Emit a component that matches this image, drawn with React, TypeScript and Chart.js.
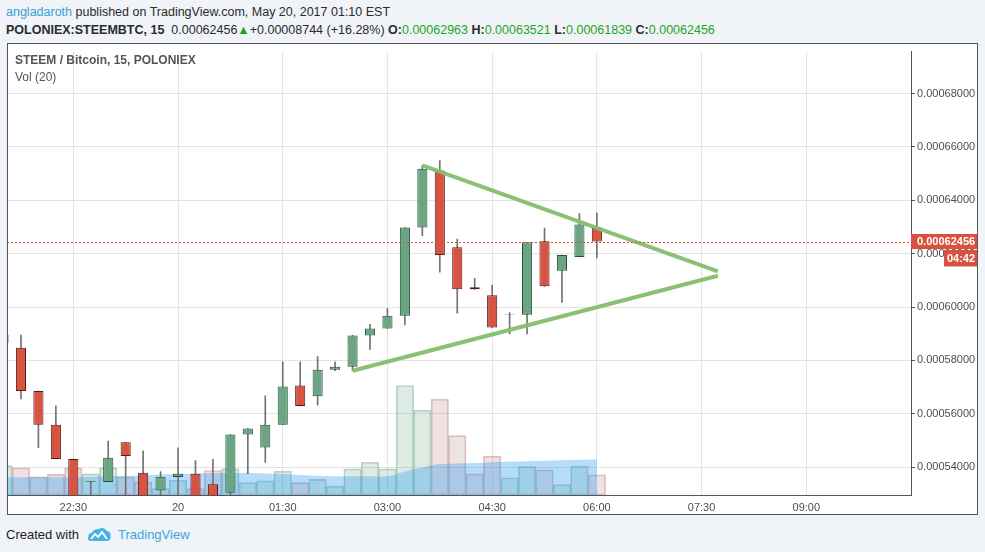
import React, { useEffect, useRef } from "react";
import { Chart, registerables } from "chart.js";

Chart.register(...registerables);

// ---------- data ----------
const CANDLE_TIMES = [
  "21:30", "21:45", "22:00", "22:15", "22:30", "22:45", "23:00", "23:15", "23:30", "23:45",
  "00:00", "00:15", "00:30", "00:45", "01:00", "01:15", "01:30", "01:45", "02:00", "02:15",
  "02:30", "02:45", "03:00", "03:15", "03:30", "03:45", "04:00", "04:15", "04:30", "04:45",
  "05:00", "05:15", "05:30", "05:45", "06:00",
];
const OPEN = [
  0.00058654, 0.00058471, 0.00056853, 0.00055592, 0.00054305, 0.00053445, 0.00053445, 0.0005493, 0.0005379, 0.00053129,
  0.00053629, 0.00053754, 0.0005336, 0.0005304, 0.00055224, 0.00054732, 0.00055592, 0.00057062, 0.00056658, 0.00057651,
  0.00057761, 0.00058937, 0.00059195, 0.00059673, 0.00062982, 0.00065114, 0.00062246, 0.00060739, 0.00060445, 0.000597,
  0.0005971, 0.00062467, 0.00061364, 0.00061879, 0.00062963,
];
const HIGH = [
  0.00058949, 0.00058949, 0.00056853, 0.00056301, 0.00054305, 0.0005347, 0.00054978, 0.0005493, 0.0005461, 0.00053838,
  0.0005472, 0.00054243, 0.0005429, 0.00055224, 0.00055445, 0.00056669, 0.00057945, 0.00057945, 0.0005814, 0.00057945,
  0.00058937, 0.00059353, 0.00059941, 0.00062982, 0.00065309, 0.00065493, 0.00062551, 0.00061081, 0.00060824, 0.00059794,
  0.0006243, 0.00062956, 0.00061952, 0.00063507, 0.00063521,
];
const LOW = [
  0.00058654, 0.00056559, 0.00054732, 0.00054305, 0.000525, 0.000526, 0.00053445, 0.000527, 0.000526, 0.000527,
  0.000527, 0.000526, 0.000526, 0.000529, 0.00053754, 0.0005418, 0.00055592, 0.0005629, 0.00056327, 0.00057614,
  0.00057614, 0.00058408, 0.00059195, 0.00059327, 0.00062673, 0.00061312, 0.00059768, 0.00060665, 0.00059232, 0.00058996,
  0.00058996, 0.00060776, 0.00060173, 0.00061879, 0.00061839,
];
const CLOSE = [
  0.00058949, 0.00056853, 0.00055592, 0.00054305, 0.000527, 0.0005347, 0.00054353, 0.00054415, 0.000527, 0.00053643,
  0.00053754, 0.000527, 0.000527, 0.00055224, 0.00055445, 0.00055592, 0.00057026, 0.0005629, 0.00057651, 0.00057761,
  0.00058937, 0.00059195, 0.00059673, 0.00062982, 0.00065188, 0.00061952, 0.00060665, 0.00060665, 0.00059232, 0.00059725,
  0.0006243, 0.00060776, 0.00061952, 0.00063092, 0.00062456,
];
const VOLUME = [
  1.5, 1.38, 0.92, 1.05, 1.38, 1.08, 1.38, 0.92, 0.67, 0.33,
  0.75, 0.33, 1.25, 1.33, 0.63, 0.72, 1.22, 0.63, 0.8, 0.45,
  1.33, 1.67, 1.33, 5.58, 4.33, 4.88, 3.03, 1.08, 1.98, 0.88,
  1.45, 1.28, 0.53, 1.48, 1.03,
];
const VOLUME_MA = [
  0.9, 0.9, 0.9, 0.9, 0.9, 0.925, 0.95, 0.975, 1.0, 1.05,
  1.075, 1.1, 1.125, 1.125, 1.125, 1.1, 1.075, 1.025, 0.975, 0.95,
  0.95, 0.95, 0.95, 1.2, 1.4, 1.575, 1.6, 1.625, 1.675, 1.7,
  1.725, 1.75, 1.775, 1.8, 1.815,
];
const PRICE_TICKS = [0.00054, 0.00056, 0.00058, 0.0006, 0.00062, 0.00064, 0.00066, 0.00068];
const TIME_TICK_TIMES = ["22:30", "00:00", "01:30", "03:00", "04:30", "06:00", "07:30", "09:00"];
const TIME_TICK_LABELS = ["22:30", "20", "01:30", "03:00", "04:30", "06:00", "07:30", "09:00"];
const TRIANGLE_UPPER_TIMES = ["03:30", "07:44"];
const TRIANGLE_UPPER_PRICES = [0.00065309, 0.00061338];
const TRIANGLE_LOWER_TIMES = ["02:30", "07:44"];
const TRIANGLE_LOWER_PRICES = [0.00057614, 0.00061173];
const LAST_PRICE = 0.00062456;
const COUNTDOWN = "04:42";

// axis ranges
const X_MIN = -147;
const X_MAX = 630;
const Y_MIN = 0.00052956;
const Y_MAX = 0.00069574;
const VOL_MAX = 22.6;

// styles
const BG = "#f0f3f7";
const SANS = "'Liberation Sans', Arial, sans-serif";
const GREEN_TXT = "#1fa51f";
const UP = "#6ba583";
const UP_BORDER = "#225437";
const DOWN = "#d75442";
const DOWN_BORDER = "#5b1a13";
const PRICE_RED = "#d9513f";

const toMinutes = (t: string) => {
  const [h, m] = t.split(":").map(Number);
  const v = h * 60 + m;
  return h >= 12 ? v - 1440 : v;
};

const overlayPlugin = {
  id: "overlayPrice",
  afterDatasetsDraw(chart: any) {
    const { ctx, chartArea, scales } = chart;
    const y = Math.round(scales.y.getPixelForValue(LAST_PRICE)) + 0.5;
    ctx.save();
    ctx.beginPath();
    ctx.rect(chartArea.left, chartArea.top, chartArea.right - chartArea.left, chartArea.bottom - chartArea.top);
    ctx.clip();
    ctx.strokeStyle = "#e04a37";
    ctx.lineWidth = 1;
    ctx.setLineDash([2, 2]);
    ctx.beginPath();
    ctx.moveTo(chartArea.left, y);
    ctx.lineTo(chartArea.right, y);
    ctx.stroke();
    ctx.restore();
  },
  afterDraw(chart: any) {
    const { ctx, chartArea, scales, width } = chart;
    const y = scales.y.getPixelForValue(LAST_PRICE);
    ctx.save();
    ctx.fillStyle = PRICE_RED;
    ctx.fillRect(chartArea.right, Math.round(y - 7.5), width - chartArea.right, 15);
    ctx.fillRect(width - 34, Math.round(y + 8.5), 34, 16.5);
    ctx.fillStyle = "#ffffff";
    ctx.font = `bold 11px ${SANS}`;
    ctx.textBaseline = "middle";
    ctx.textAlign = "left";
    ctx.fillText(LAST_PRICE.toFixed(8), chartArea.right + 6, Math.round(y - 7.5) + 8);
    ctx.textAlign = "center";
    ctx.fillText(COUNTDOWN, width - 17, Math.round(y + 8.5) + 8.5);
    ctx.restore();
  },
};

export default function App() {
  const ref = useRef<HTMLCanvasElement>(null);

  useEffect(() => {
    document.body.style.margin = "0";
    document.body.style.background = BG;
    const xs = CANDLE_TIMES.map(toMinutes);
    const up = OPEN.map((o, i) => CLOSE[i] >= o);
    const tickValues = TIME_TICK_TIMES.map(toMinutes);

    const chart = new Chart(ref.current as HTMLCanvasElement, {
      type: "bar",
      data: {
        datasets: [
          {
            type: "line",
            data: TRIANGLE_UPPER_TIMES.map((t, i) => ({ x: toMinutes(t), y: TRIANGLE_UPPER_PRICES[i] })),
            borderColor: "rgba(134,190,110,0.95)",
            borderWidth: 4,
            pointRadius: 0,
            fill: false,
            order: 0,
            clip: 0,
            yAxisID: "y",
          },
          {
            type: "line",
            data: TRIANGLE_LOWER_TIMES.map((t, i) => ({ x: toMinutes(t), y: TRIANGLE_LOWER_PRICES[i] })),
            borderColor: "rgba(134,190,110,0.95)",
            borderWidth: 4,
            pointRadius: 0,
            fill: false,
            order: 0,
            clip: 0,
            yAxisID: "y",
          },
          {
            type: "bar",
            data: xs.map((x, i) => ({ x, y: [OPEN[i], CLOSE[i]] })),
            backgroundColor: up.map((u) => (u ? UP : DOWN)),
            borderColor: up.map((u) => (u ? UP_BORDER : DOWN_BORDER)),
            borderWidth: 1,
            borderSkipped: false,
            grouped: false,
            barPercentage: 0.58,
            categoryPercentage: 1,
            order: 1,
            clip: 0,
            yAxisID: "y",
          },
          {
            type: "bar",
            data: xs.map((x, i) => ({ x, y: [LOW[i], HIGH[i]] })),
            backgroundColor: "#737373",
            borderWidth: 0,
            grouped: false,
            barThickness: 1,
            order: 2,
            clip: 0,
            yAxisID: "y",
          },
          {
            type: "line",
            data: xs.map((x, i) => ({ x, y: VOLUME_MA[i] })),
            backgroundColor: "rgba(33,150,243,0.33)",
            borderColor: "rgba(33,150,243,0)",
            borderWidth: 0,
            pointRadius: 0,
            tension: 0.4,
            fill: "origin",
            order: 3,
            clip: 0,
            yAxisID: "yVol",
          },
          {
            type: "bar",
            data: xs.map((x, i) => ({ x, y: VOLUME[i] })),
            backgroundColor: up.map((u) => (u ? "rgba(107,165,131,0.22)" : "rgba(175,110,110,0.2)")),
            borderColor: up.map((u) => (u ? "rgba(107,165,131,0.45)" : "rgba(175,110,110,0.4)")),
            borderWidth: 1,
            borderSkipped: false,
            grouped: false,
            barPercentage: 1,
            categoryPercentage: 1,
            order: 4,
            clip: 0,
            yAxisID: "yVol",
          },
        ] as any,
      },
      options: {
        animation: false,
        responsive: false,
        layout: { padding: 0 },
        plugins: { legend: { display: false }, tooltip: { enabled: false } },
        scales: {
          x: {
            type: "linear",
            min: X_MIN,
            max: X_MAX,
            offset: false,
            bounds: "data",
            grid: { color: "#e4e4e4", offset: false, drawTicks: false },
            border: { color: "#555555", width: 1 },
            ticks: {
              color: "#4d4d4d",
              font: { family: SANS, size: 11 },
              padding: 6,
              maxRotation: 0,
              autoSkip: false,
              callback: (_v: any, i: number) => TIME_TICK_LABELS[i],
            },
            afterBuildTicks: (s: any) => {
              s.ticks = tickValues.map((v) => ({ value: v }));
            },
            afterFit: (s: any) => {
              s.height = 20;
            },
          },
          y: {
            type: "linear",
            position: "right",
            min: Y_MIN,
            max: Y_MAX,
            bounds: "data",
            beginAtZero: false,
            grid: { color: "#e4e4e4", tickColor: "#555555", tickLength: 4 },
            border: { color: "#555555", width: 1 },
            ticks: {
              color: "#4d4d4d",
              font: { family: SANS, size: 11 },
              padding: 2,
              callback: (v: any) => Number(v).toFixed(8),
            },
            afterBuildTicks: (s: any) => {
              s.ticks = PRICE_TICKS.map((v) => ({ value: v }));
            },
            afterFit: (s: any) => {
              s.width = 67;
            },
          },
          yVol: {
            type: "linear",
            display: false,
            min: 0,
            max: VOL_MAX,
            beginAtZero: true,
          },
        },
      } as any,
      plugins: [overlayPlugin],
    });
    return () => chart.destroy();
  }, []);

  const hdr: React.CSSProperties = {
    position: "absolute",
    left: 6,
    fontFamily: SANS,
    fontSize: 12.5,
    lineHeight: "14px",
    color: "#2b2b2b",
    whiteSpace: "nowrap",
  };

  return (
    <div style={{ position: "relative", width: 985, height: 552, background: BG, overflow: "hidden" }}>
      <div style={{ ...hdr, top: 5 }}>
        <span style={{ color: "#3aa0d8" }}>angladaroth</span> published on TradingView.com, May 20, 2017 01:10 EST
      </div>
      <div style={{ ...hdr, top: 23 }}>
        <b>POLONIEX:STEEMBTC, 15</b>&nbsp; 0.00062456<span style={{ color: GREEN_TXT }}>▲</span>+0.00008744 (+16.28%){" "}
        <b>O:</b><span style={{ color: GREEN_TXT }}>0.00062963</span> <b>H:</b>
        <span style={{ color: GREEN_TXT }}>0.00063521</span> <b>L:</b>
        <span style={{ color: GREEN_TXT }}>0.00061839</span> <b>C:</b>
        <span style={{ color: GREEN_TXT }}>0.00062456</span>
      </div>

      <div style={{ position: "absolute", left: 7, top: 43, width: 971, height: 472, background: "#ffffff" }}>
        <canvas ref={ref} width={971} height={472} style={{ position: "absolute", left: 0, top: 0 }} />
        <div
          style={{
            position: "absolute",
            left: 8,
            top: 9,
            fontFamily: SANS,
            fontSize: 12,
            fontWeight: "bold",
            color: "#555555",
            lineHeight: "16px",
            whiteSpace: "nowrap",
          }}
        >
          STEEM / Bitcoin, 15, POLONIEX
        </div>
        <div
          style={{
            position: "absolute",
            left: 8,
            top: 26,
            fontFamily: SANS,
            fontSize: 12,
            color: "#555555",
            lineHeight: "16px",
            whiteSpace: "nowrap",
          }}
        >
          Vol (20)
        </div>
        <div
          style={{
            position: "absolute",
            left: 0,
            top: 0,
            width: 971,
            height: 472,
            boxSizing: "border-box",
            border: "1px solid #555555",
            pointerEvents: "none",
          }}
        />
      </div>

      <div
        style={{
          position: "absolute",
          left: 6,
          top: 527,
          fontFamily: SANS,
          fontSize: 13,
          color: "#222222",
          lineHeight: "16px",
          whiteSpace: "nowrap",
        }}
      >
        Created with
      </div>
      <svg width="24" height="15" viewBox="0 0 24 15" style={{ position: "absolute", left: 87, top: 527 }}>
        <path
          d="M4 14 C1 14 0 11 1.5 9.5 C1 7 3 5.5 5 6 C6 3 9 1.5 12 2 C14.5 0 18.5 1 19.5 4 C22.5 4 24 6.5 23.5 9 C24 12 22 14 20 14 Z"
          fill="#45b4e4"
        />
        <path d="M4 12 L8 7 L11 10 L15 5 L20 12" stroke="#ffffff" strokeWidth="1.8" fill="none" />
      </svg>
      <div
        style={{
          position: "absolute",
          left: 118,
          top: 527,
          fontFamily: SANS,
          fontSize: 13,
          color: "#3ba7dc",
          lineHeight: "16px",
          whiteSpace: "nowrap",
        }}
      >
        TradingView
      </div>
    </div>
  );
}
